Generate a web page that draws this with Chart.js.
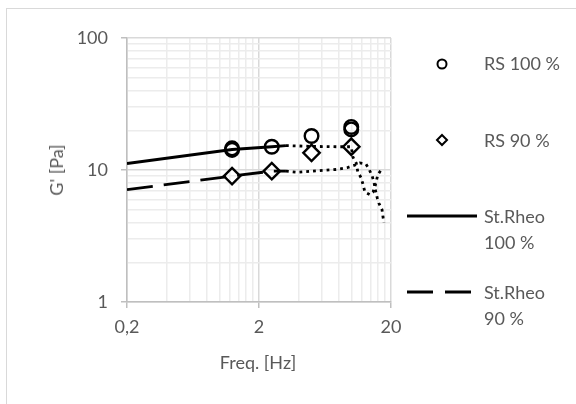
<!DOCTYPE html>
<html><head><meta charset="utf-8">
<script src="https://cdn.jsdelivr.net/npm/chart.js@4.4.0/dist/chart.umd.min.js"></script>
<style>
html,body{margin:0;padding:0;background:#fff;overflow:hidden;}
#wrap{position:relative;width:576px;height:404px;font-family:Lato, sans-serif;color:#595959;overflow:hidden;}
#frame{position:absolute;left:6px;top:8px;width:640px;height:460px;border:1px solid #d9d9d9;}
canvas{position:absolute;left:0;top:0;}
.t{position:absolute;font-size:18px;white-space:nowrap;line-height:26px;}
#leg{position:absolute;left:0;top:0;}
</style></head><body>
<div id="wrap">
<div id="frame"></div>
<canvas id="c" width="576" height="404"></canvas>
<div class="t" style="left:56px;top:170px;transform:translate(-50%,-50%) rotate(-90deg)">G' [Pa]</div>
<div class="t" style="left:258px;top:362px;transform:translate(-50%,-50%)">Freq. [Hz]</div>
<svg id="leg" width="576" height="404">
  <circle cx="442" cy="64" r="4.5" fill="none" stroke="#000" stroke-width="2"/>
  <polygon points="442,135 447,140 442,145 437,140" fill="none" stroke="#000" stroke-width="2"/>
  <line x1="407" y1="216" x2="477" y2="216" stroke="#000" stroke-width="3"/>
  <line x1="407" y1="292" x2="477" y2="292" stroke="#000" stroke-width="3" stroke-dasharray="26,12"/>
</svg>
<div class="t" style="left:484px;top:50px">RS 100 %</div>
<div class="t" style="left:484px;top:127px">RS 90 %</div>
<div class="t" style="left:484px;top:203px">St.Rheo<br>100 %</div>
<div class="t" style="left:484px;top:279px">St.Rheo<br>90 %</div>
</div>
<script>
// ---- data ----
const rs100Freq = [1.25, 1.25, 2.5, 5, 10, 10];
const rs100G    = [14.2, 14.6, 15.0, 18.1, 20.3, 21.2];
const rs90Freq  = [1.25, 2.5, 5, 10];
const rs90G     = [9.0, 9.8, 13.5, 15.0];
const st100Freq = [0.2, 1.25, 2.5, 3.2];
const st100G    = [11.2, 14.3, 15.0, 15.3];
const st90Freq  = [0.2, 1.25, 2.5, 3.2];
const st90G     = [7.1, 9.0, 9.8, 9.8];
const st100DotFreq = [3.2, 5, 8, 10, 10.3, 10.9, 11.2, 11.9, 12.3, 12.7, 13.9, 14.6, 15.1, 15.4, 15.9, 16.8, 17.4];
const st100DotG    = [15.3, 15.1, 15.0, 15.0, 12.5, 11.3, 9.7, 8.7, 7.7, 6.8, 6.5, 6.8, 7.4, 8.1, 9.2, 10.0, 10.2];
const st90DotFreq  = [3.2, 3.9, 5.5, 7.8, 9.3, 10.7, 11.6, 12.9, 13.6, 14.4, 14.9, 15.1, 15.7, 16.2, 17.1, 17.4, 17.7];
const st90DotG     = [9.8, 9.6, 9.85, 10.1, 10.4, 10.9, 11.3, 11.1, 10.2, 9.0, 8.0, 7.3, 6.2, 5.6, 5.0, 4.4, 4.0];
const xTickValues = [0.2,0.4,0.6,0.8,1,1.2,1.4,1.6,1.8,2,4,6,8,10,12,14,16,18,20];
const xMajor = [0.2, 2, 20];
const xMajorLabels = ['0,2', '2', '20'];
const yTickValues = [1,2,3,4,5,6,7,8,9,10,20,30,40,50,60,70,80,90,100];
const yMajor = [1, 10, 100];
const yMajorLabels = ['1', '10', '100'];

const pts = (xs, ys) => xs.map((x, i) => ({x: x, y: ys[i]}));
const idx = (arr, v) => arr.findIndex(a => Math.abs(a - v) < 1e-9);
const FONT = {family: 'Lato', size: 18};

new Chart(document.getElementById('c'), {
  type: 'scatter',
  data: {
    datasets: [
      {label: 'RS 100 %', data: pts(rs100Freq, rs100G), pointStyle: 'circle', pointRadius: 6.8,
       pointBorderWidth: 2.4, borderColor: '#000', backgroundColor: 'rgba(0,0,0,0)', showLine: false},
      {label: 'RS 90 %', data: pts(rs90Freq, rs90G), pointStyle: 'rectRot', pointRadius: 8.2,
       pointBorderWidth: 2.4, borderColor: '#000', backgroundColor: 'rgba(0,0,0,0)', showLine: false},
      {label: 'St.Rheo 100 %', data: pts(st100Freq, st100G), showLine: true, pointRadius: 0,
       borderColor: '#000', borderWidth: 2.8},
      {label: 'St.Rheo 90 %', data: pts(st90Freq, st90G), showLine: true, pointRadius: 0,
       borderColor: '#000', borderWidth: 2.8, borderDash: [26, 11]},
      {label: 'dot100', data: pts(st100DotFreq, st100DotG), showLine: true, pointRadius: 0,
       borderColor: '#000', borderWidth: 2.8, borderDash: [2.8, 4]},
      {label: 'dot90', data: pts(st90DotFreq, st90DotG), showLine: true, pointRadius: 0,
       borderColor: '#000', borderWidth: 2.8, borderDash: [2.8, 4]}
    ]
  },
  options: {
    responsive: false,
    animation: false,
    devicePixelRatio: 1,
    layout: {padding: {left: 0, top: 38, right: 185, bottom: 42}},
    plugins: {legend: {display: false}, tooltip: {enabled: false}},
    scales: {
      x: {
        type: 'logarithmic', min: 0.2, max: 20,
        afterBuildTicks: s => { s.ticks = xTickValues.map(v => ({value: v})); },
        afterFit: s => { s.height = 60; },
        grid: {
          color: c => (c.tick && idx(xMajor, c.tick.value) >= 0) ? '#d9d9d9' : '#ececec',
          lineWidth: 1.5, drawTicks: true, tickLength: 6,
          tickColor: c => (c.tick && idx(xMajor, c.tick.value) >= 0) ? '#bfbfbf' : 'rgba(0,0,0,0)'
        },
        border: {color: '#bfbfbf', width: 1.5},
        ticks: {
          autoSkip: false, maxRotation: 0, padding: 8, font: FONT, color: '#595959',
          callback: v => { const i = idx(xMajor, v); return i >= 0 ? xMajorLabels[i] : ''; }
        }
      },
      y: {
        type: 'logarithmic', min: 1, max: 100,
        afterBuildTicks: s => { s.ticks = yTickValues.map(v => ({value: v})); },
        afterFit: s => { s.width = 127; },
        grid: {
          color: c => (c.tick && idx(yMajor, c.tick.value) >= 0) ? '#d9d9d9' : '#ececec',
          lineWidth: 1.5, drawTicks: true, tickLength: 6,
          tickColor: c => (c.tick && idx(yMajor, c.tick.value) >= 0) ? '#bfbfbf' : 'rgba(0,0,0,0)'
        },
        border: {color: '#bfbfbf', width: 1.5},
        ticks: {
          autoSkip: false, padding: 13, font: FONT, color: '#595959',
          callback: v => { const i = idx(yMajor, v); return i >= 0 ? yMajorLabels[i] : ''; }
        }
      }
    }
  }
});
</script>
</body></html>
